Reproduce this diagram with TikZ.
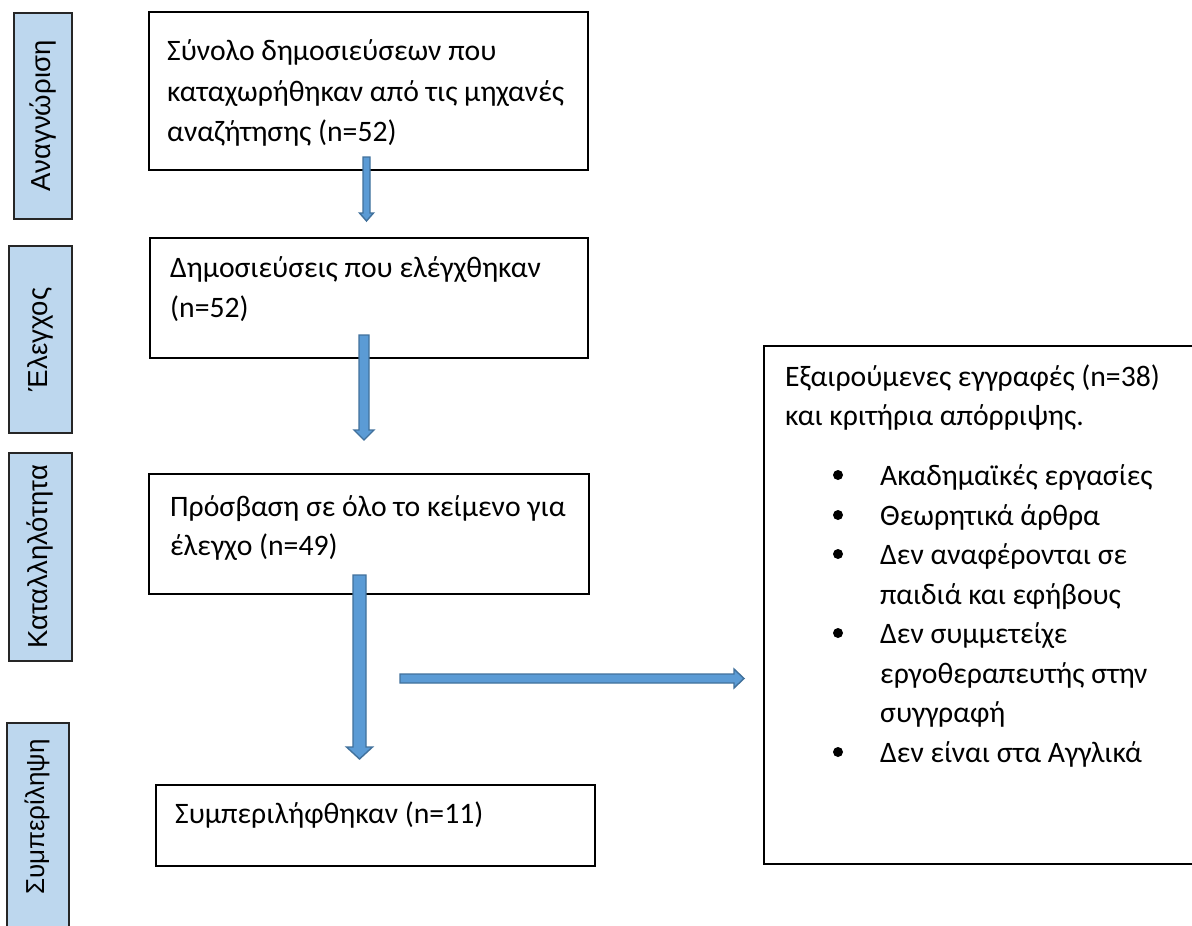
\documentclass[tikz,border=0pt]{standalone}
\usepackage{fontspec}
\setmainfont{Carlito}
\newfontfamily\sidefont{Liberation Sans}
\usetikzlibrary{calc}
\definecolor{arrowfill}{HTML}{5B9BD5}
\definecolor{arrowline}{HTML}{41719C}
\definecolor{sidefill}{HTML}{BDD7EE}
\definecolor{sideline}{HTML}{262626}
\newcommand{\vblockarrow}[5]{%
  \path[blockarrow] ($(#1)+(-#3,0)$) -- ($(#1)+(#3,0)$) -- ($(#2)+(#3,-#5)$) -- ($(#2)+(#4,-#5)$) -- (#2) -- ($(#2)+(-#4,-#5)$) -- ($(#2)+(-#3,-#5)$) -- cycle;}
\newcommand{\hblockarrow}[5]{%
  \path[blockarrow] ($(#1)+(0,-#3)$) -- ($(#1)+(0,#3)$) -- ($(#2)+(-#5,#3)$) -- ($(#2)+(-#5,#4)$) -- (#2) -- ($(#2)+(-#5,-#4)$) -- ($(#2)+(-#5,-#3)$) -- cycle;}
\begin{document}
\begin{tikzpicture}[x=1pt,y=-1pt,
  mainbox/.style={draw=black, line width=1.6pt, rectangle, inner sep=0pt, anchor=north west},
  sidebox/.style={draw=sideline, fill=sidefill, line width=1.6pt, rectangle, inner sep=0pt, anchor=north west},
  txt/.style={inner sep=0pt, anchor=base west, font=\fontsize{29.7}{36}\selectfont},
  sidetxt/.style={inner sep=0pt, rotate=90, font=\sidefont\fontsize{27.5}{33}\selectfont},
  blockarrow/.style={fill=arrowfill, draw=arrowline, line width=1.4pt, line join=miter},
  dot/.style={circle, fill=black, inner sep=0pt, minimum size=10pt}]
\clip (0,0) rectangle (1192,926);
\fill[white] (0,0) rectangle (1192,926);

% side boxes
\node[sidebox, minimum width=58pt, minimum height=206pt] (s1) at (13,12) {};
\node[sidebox, minimum width=63pt, minimum height=187pt] (s2) at (8,245) {};
\node[sidebox, minimum width=63pt, minimum height=208pt] (s3) at (8,452) {};
\node[sidebox, minimum width=62pt, minimum height=230pt] (s4) at (6,722) {};
\node[sidetxt] (l1) at (s1.center) {Αναγνώριση};
\node[sidetxt] (l2) at (s2.center) {Έλεγχος};
\node[sidetxt] (l3) at (s3.center) {Καταλληλότητα};
\node[sidetxt, font=\sidefont\fontsize{26}{31}\selectfont] (l4) at (37,817) {Συμπερίληψη};

% main boxes
\node[mainbox, minimum width=439pt, minimum height=158pt] (b1) at (148,11) {};
\node[mainbox, minimum width=438pt, minimum height=120pt] (b2) at (149,237) {};
\node[mainbox, minimum width=440pt, minimum height=120pt] (b3) at (148,473) {};
\node[mainbox, minimum width=439pt, minimum height=81pt] (b4) at (155,784) {};
\node[mainbox, minimum width=440pt, minimum height=518pt] (b5) at (763,345) {};

% texts
\node[txt] (t1a) at (167,60) {Σύνολο δημοσιεύσεων που};
\node[txt] (t1b) at (167,101) {καταχωρήθηκαν από τις μηχανές};
\node[txt] (t1c) at (167,141) {αναζήτησης (n=52)};
\node[txt] (t2a) at (170,277) {Δημοσιεύσεις που ελέγχθηκαν};
\node[txt] (t2b) at (170,317) {(n=52)};
\node[txt] (t3a) at (170,516) {Πρόσβαση σε όλο το κείμενο για};
\node[txt] (t3b) at (170,555) {έλεγχο (n=49)};
\node[txt] (t4a) at (175,823) {Συμπεριλήφθηκαν (n=11)};

\node[txt] (h1) at (785,386) {Εξαιρούμενες εγγραφές (n=38)};
\node[txt] (h2) at (785,425) {και κριτήρια απόρριψης.};
\node[txt] (i1) at (880,485) {Ακαδημαϊκές εργασίες};
\node[txt] (i2) at (880,525) {Θεωρητικά άρθρα};
\node[txt] (i3) at (880,564) {Δεν αναφέρονται σε};
\node[txt] (i3b) at (880,604) {παιδιά και εφήβους};
\node[txt] (i4) at (880,643) {Δεν συμμετείχε};
\node[txt] (i4b) at (880,683) {εργοθεραπευτής στην};
\node[txt] (i4c) at (880,722) {συγγραφή};
\node[txt] (i5) at (880,762) {Δεν είναι στα Αγγλικά};
\node[dot] (d1) at (838,475) {};
\node[dot] (d2) at (838,515) {};
\node[dot] (d3) at (838,554) {};
\node[dot] (d4) at (838,633) {};
\node[dot] (d5) at (838,752) {};

% arrows
\coordinate (a1s) at (366.5,157);
\coordinate (a1e) at (366.5,221);
\coordinate (a2s) at (364,335);
\coordinate (a2e) at (364,440);
\coordinate (a3s) at (359.5,575);
\coordinate (a3e) at (359.5,759);
\coordinate (a4s) at (400,678.5);
\coordinate (a4e) at (744,678.5);
\vblockarrow{a1s}{a1e}{3.5}{7}{8}
\vblockarrow{a2s}{a2e}{5}{10}{10}
\vblockarrow{a3s}{a3e}{6.5}{13}{12}
\hblockarrow{a4s}{a4e}{4.5}{9.5}{10}
\end{tikzpicture}
\end{document}
